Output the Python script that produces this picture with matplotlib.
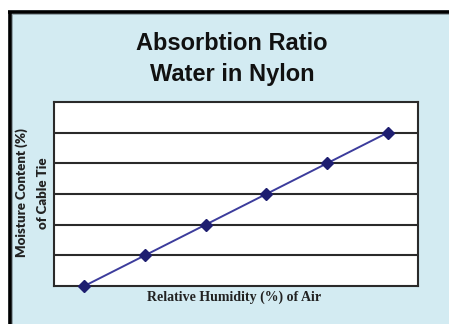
import matplotlib
matplotlib.use("Agg")
import matplotlib.pyplot as plt
from matplotlib.patches import Rectangle
from matplotlib.lines import Line2D

# Data: moisture content vs relative humidity category
humidity_steps = [0, 1, 2, 3, 4, 5]
moisture_content = [0, 1, 2, 3, 4, 5]
title_lines = ["Absorbtion Ratio", "Water in Nylon"]
x_label = "Relative Humidity (%) of Air"
y_label_lines = ["Moisture Content (%)", "of Cable Tie"]

W, H = 449, 324
fig = plt.figure(figsize=(W / 100, H / 100), dpi=100)
fig.patch.set_facecolor("white")

bg = "#d3ebf2"
# light-blue panel with a heavy black frame on top and left
fig.add_artist(Rectangle((8 / W, 0), 1, 1 - 10 / H, transform=fig.transFigure,
                         facecolor=bg, edgecolor="none", zorder=0))
fig.add_artist(Line2D([9.5 / W, 9.5 / W], [0, 1 - 11.5 / H], transform=fig.transFigure,
                      color="black", lw=2.6, solid_capstyle="butt"))
fig.add_artist(Line2D([8 / W, 1], [1 - 11.5 / H, 1 - 11.5 / H], transform=fig.transFigure,
                      color="black", lw=2.6, solid_capstyle="butt"))
fig.add_artist(Line2D([11.5 / W, 11.5 / W], [0, 1 - 13.5 / H], transform=fig.transFigure,
                      color="#8a9aa0", lw=0.6))
fig.add_artist(Line2D([11.5 / W, 1], [1 - 13.5 / H, 1 - 13.5 / H], transform=fig.transFigure,
                      color="#8a9aa0", lw=0.6))

ax = fig.add_axes([54 / W, 1 - 286 / H, 364 / W, 184 / H])
ax.set_facecolor("white")
ax.set_xlim(-0.5, len(humidity_steps) - 0.5)
ax.set_ylim(0, 6)
ax.set_yticks(range(1, 6))
ax.set_xticks([])
ax.tick_params(axis="y", length=0, labelleft=False)
ax.grid(axis="y", color="#2a2a2a", lw=1.5)
ax.set_axisbelow(True)
for s in ax.spines.values():
    s.set_color("#2a2a2a")
    s.set_linewidth(1.5)

ax.plot(humidity_steps, moisture_content, color="#3c3c9c", lw=1.4,
        marker="D", markersize=6.5, markerfacecolor="#1e1e70",
        markeredgecolor="#1e1e70", clip_on=False, zorder=3)

# titles
fig.text(232 / W, 1 - 44 / H, title_lines[0], ha="center", va="center",
         fontsize=17, fontweight="bold", family="Liberation Sans", color="#111111")
fig.text(232 / W, 1 - 74 / H, title_lines[1], ha="center", va="center",
         fontsize=17, fontweight="bold", family="Liberation Sans", color="#111111")

fig.text(234 / W, 1 - 297 / H, x_label, ha="center", va="center",
         fontsize=10, fontweight="bold", family="Liberation Serif", color="#222222")
fig.text(22 / W, 1 - 193 / H, y_label_lines[0], ha="center", va="center", rotation=90,
         fontsize=9.5, fontweight="heavy", family=["Lato", "DejaVu Sans"], color="#222222")
fig.text(43 / W, 1 - 193 / H, y_label_lines[1], ha="center", va="center", rotation=90,
         fontsize=9.5, fontweight="heavy", family=["Lato", "DejaVu Sans"], color="#222222")

fig.savefig("out.png", dpi=100, facecolor=fig.get_facecolor())
